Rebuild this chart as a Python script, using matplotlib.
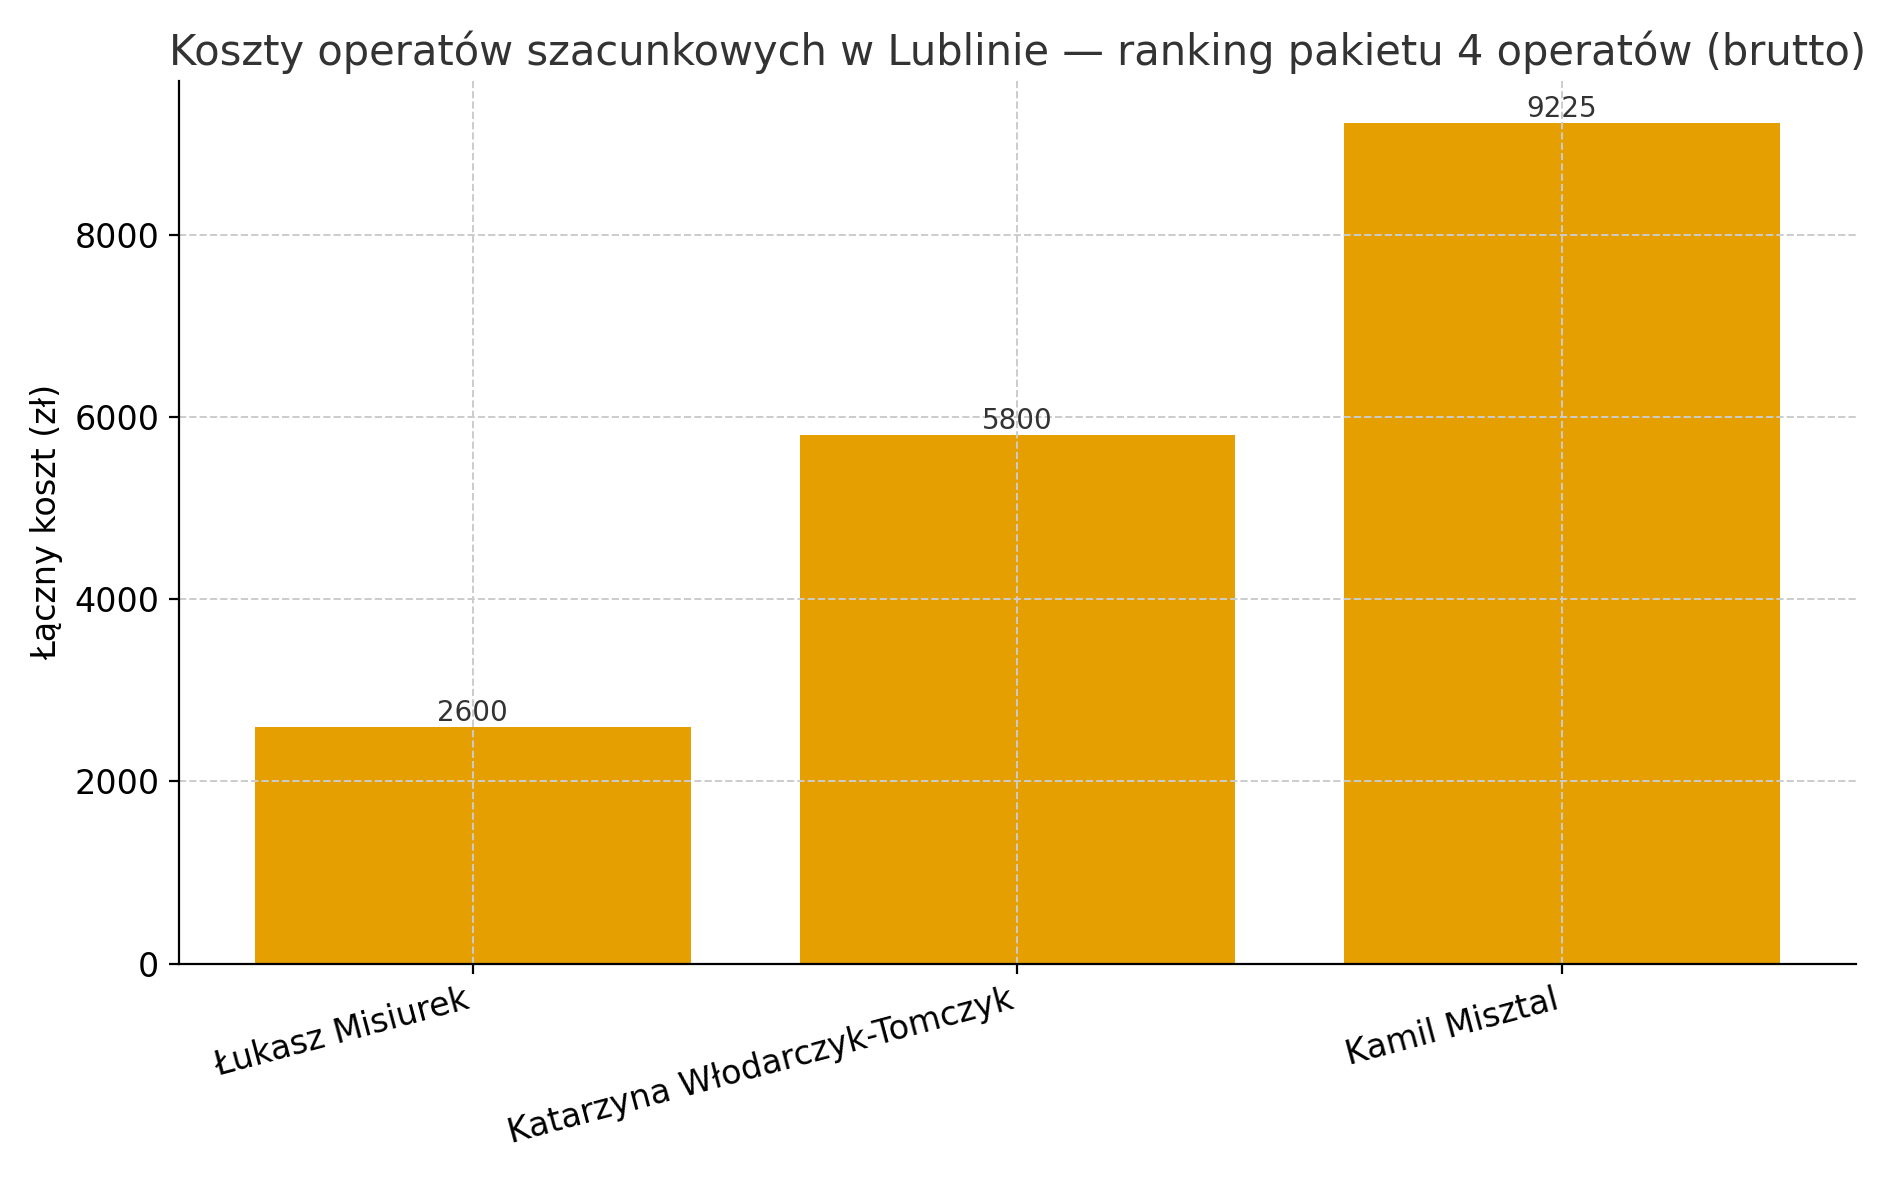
import matplotlib.pyplot as plt

names = ['Łukasz Misiurek', 'Katarzyna Włodarczyk-Tomczyk', 'Kamil Misztal']
costs = [2600, 5800, 9225]

fig, ax = plt.subplots(figsize=(9.43, 5.9), dpi=200)
bars = ax.bar(names, costs, color='#E69F00', width=0.8)
for b, v in zip(bars, costs):
    ax.text(b.get_x() + b.get_width() / 2, v, f'{v}', ha='center', va='bottom',
            fontsize=10, color='#333333')

ax.set_title('Koszty operatów szacunkowych w Lublinie — ranking pakietu 4 operatów (brutto)',
             fontsize=15, color='#333333')
ax.set_ylabel('Łączny koszt (zł)', fontsize=12)
ax.grid(True, linestyle='--', color='#cccccc', linewidth=0.7)
ax.spines['top'].set_visible(False)
ax.spines['right'].set_visible(False)
ax.spines['bottom'].set_zorder(3)
ax.spines['left'].set_zorder(3)
plt.xticks(rotation=15, ha='right', fontsize=12)
plt.yticks(fontsize=12)
plt.tight_layout()
plt.savefig('out.png')
